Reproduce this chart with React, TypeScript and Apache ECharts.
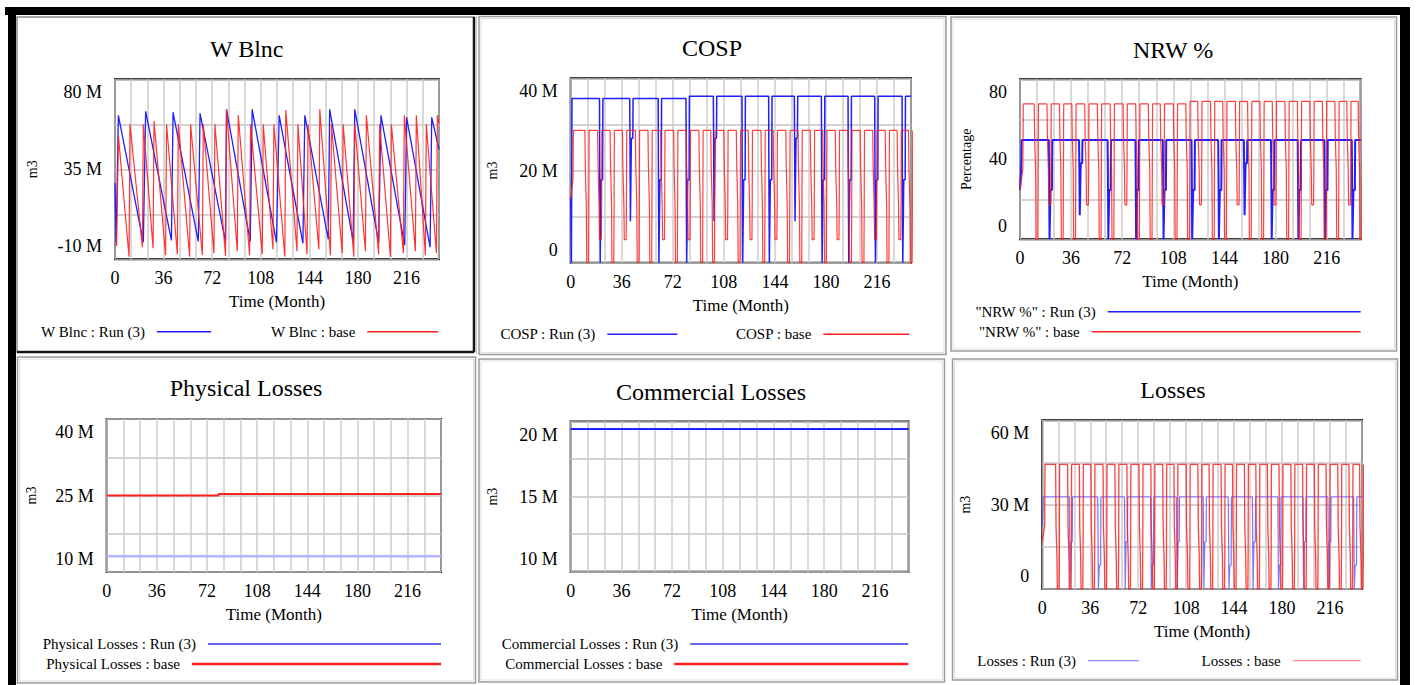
import React, { useEffect, useRef } from "react";
import * as echarts from "echarts";

type Pt = [number, number];

// ---------------- DATA (values in millions of m3, NRW in %) ----------------
const xTickLabels = ["0", "36", "72", "108", "144", "180", "216"];

// W Blnc : Run (3)
const wbRunStart: Pt[] = [[0, 28], [0.8, -2]];
const wbRunPeakT = [2.5, 22.7, 43, 63, 82.6, 101.6, 121.6, 140.6, 159, 177.6, 197, 216, 234.6];
const wbRunPeakV = [62, 64, 63.5, 63, 65, 65, 62, 62, 65, 65, 62, 61, 61];
const wbRunTroughT = [21, 41.8, 61.7, 81.8, 100.2, 119.6, 139.2, 158, 176.4, 195.3, 214.6, 233.4];
const wbRunTroughV = [-1.5, -0.5, -1, -1, -1, -1.5, -2, 0, -1, -1.5, -3, -4];
const wbRunEnd: Pt[] = [[240, 45]];

// W Blnc : base
const wbBaseStart: Pt[] = [[0, -3], [1.2, -3]];
const wbBasePeakT = [2.5, 11.1, 21, 28.9, 38.2, 46.9, 56, 65.4, 74, 82.6, 91.3, 100.4, 109.8, 117.7, 126.5, 135.5, 143, 151.7, 160.3, 169, 177.6, 186.2, 196, 204.7, 214.3, 223.2, 230.6, 238.8];
const wbBasePeakV = [52, 57.5, 57.5, 59, 57.5, 57.5, 57.5, 57.5, 57.5, 64.7, 62, 57.5, 57.5, 57.5, 64.7, 57.5, 57.5, 65, 57.5, 57.5, 57.5, 62, 57.5, 57.5, 62, 62, 57.5, 62];
const wbBaseTroughT = [10.4, 20.3, 28.2, 37.5, 46.2, 55.3, 64.7, 73.3, 81.9, 90.6, 99.7, 109.1, 117, 125.8, 134.8, 142.3, 151, 159.6, 168.3, 176.9, 185.5, 195.3, 204, 213.6, 222.5, 229.9, 238.1];
const wbBaseTroughV = [-8.7, -4, -4.5, -8, -7.5, -8.7, -8, -7, -8.5, -6, -8, -7.5, -5, -8.7, -6, -7.5, -5, -8, -7, -8.7, -6, -7.5, -8.7, -7, -6, -8, -7];
const wbBaseEnd: Pt[] = [[240, 58]];

// Run (3) supply interruptions (shared by COSP, NRW %, Losses)
const runDipT = [20.3, 41.6, 61.7, 81.3, 100.6, 120.8, 139.6, 157.7, 176.8, 195.6, 214.4, 233.7];
const runDipShapeT = [0, 0.2, 0.5, 0.9, 1.2, 2.2, 2.4];
// base interruptions (shared by COSP, NRW %, Losses)
const baseDropT = [10, 19, 27.8, 36.5, 45.6, 54.5, 63.5, 72.6, 81.5, 90.4, 98.8, 108, 116.8, 125.2, 134.2, 142.8, 151.7, 160.3, 169, 177.7, 186.6, 195.4, 204.2, 213, 221.8, 230.2, 238.2];
const baseDropShapeT = [0, 0.3, 1, 1.3, 2.6, 2.8, 3];

// COSP
const cospRunStart: Pt[] = [[0, 14], [0.5, 0], [0.9, 35.6]];
const cospRunLevels = [35.6, 36.1];
const cospRunLevelSwitchT = 82;
const cospRunBand = [18, 27, 18, 18, 27, 18, 18, 27, 18, 18, 18, 18];
const cospRunBottom = [0, 9, 0, 0, 9, 0, 0, 9, 0, 0, 0, 0];
const cospBaseStart: Pt[] = [[0, 14], [1.6, 18], [1.9, 28.7]];
const cospBaseTops = [28.7, 28.7];
const cospBaseNotches = [21, 12.6];
const cospBaseBottom = [0, 5, 0, 5, 0, 0, 5, 0, 5, 0, 0, 5, 0, 5, 0, 5, 0, 0, 5, 0, 5, 0, 0, 5, 0, 5, 0];

// NRW %
const nrwRunStart: Pt[] = [[0, 24.7], [0.8, 34.7], [1.2, 49.7]];
const nrwRunLevels = [49.7, 49.7];
const nrwRunBandHi = [34.7, 34.7, 34.7, 34.7, 34.7, 34.7, 34.7, 34.7, 34.7, 34.7, 34.7, 34.7];
const nrwRunBandLo = [24.7, 38, 24.7, 24.7, 24.7, 24.7, 24.7, 38, 24.7, 24.7, 24.7, 24.7];
const nrwRunBottom = [0, 12, 0, 0, 0, 0, 0, 12, 0, 0, 0, 0];
const nrwBaseStart: Pt[] = [[0, 24.7], [2, 34.7], [2.3, 67.7]];
const nrwBaseTops = [67.7, 69];
const nrwBaseTopSwitchT = 119;
const nrwBaseNotches = [51.3, 34.7];
const nrwBaseBottom = [0, 17.2, 0, 0, 17.2, 0, 0, 17.2, 0, 0, 17.2, 0, 0, 17.2, 0, 0, 17.2, 0, 0, 17.2, 0, 0, 17.2, 0, 0, 17.2, 0];

// Physical Losses
const physRun: Pt[] = [[0, 13.1], [240, 13.1]];
const physBase: Pt[] = [[0, 25], [80, 25], [80.5, 25.3], [240, 25.3]];

// Commercial Losses
const commRun: Pt[] = [[0, 19.5], [240, 19.5]];
const commBase: Pt[] = [[0, 19.5], [240, 19.5]];

// Losses
const lossRunStart: Pt[] = [[0, 22.5], [0.8, 32.8]];
const lossRunLevels = [32.8, 32.8];
const lossRunBandHi = [22.5, 22.5, 22.5, 22.5, 22.5, 22.5, 22.5, 22.5, 22.5, 22.5, 22.5, 22.5];
const lossRunBandLo = [16.8, 8.5, 16.8, 8.5, 16.8, 16.8, 8.5, 16.8, 8.5, 16.8, 16.8, 8.5];
const lossRunBottom = [0, 0, 0, 0, 0, 0, 0, 0, 0, 0, 0, 0];
const lossBaseStart: Pt[] = [[0, 17], [1.8, 22.5], [2, 44.3]];
const lossBaseTops = [44.3, 44.3];
const lossBaseNotches = [22.5, 11.5];
const lossBaseBottom = [0, 0, 0, 0, 0, 0, 0, 0, 0, 0, 0, 0, 0, 0, 0, 0, 0, 0, 0, 0, 0, 0, 0, 0, 0, 0, 0];

// y tick labels [bottom, middle, top]
const wbYLabels = ["-10 M", "35 M", "80 M"];
const cospYLabels = ["0", "20 M", "40 M"];
const nrwYLabels = ["0", "40", "80"];
const physYLabels = ["10 M", "25 M", "40 M"];
const commYLabels = ["10 M", "15 M", "20 M"];
const lossYLabels = ["0", "30 M", "60 M"];

// ---------------- builders ----------------
function sawtooth(start: Pt[], peakT: number[], peakV: number[], troughT: number[], troughV: number[], end: Pt[]): Pt[] {
  const out: Pt[] = [...start];
  peakT.forEach((t, i) => {
    out.push([t, peakV[i]]);
    if (i < troughT.length) out.push([troughT[i], troughV[i]]);
  });
  return out.concat(end);
}

function runDips(start: Pt[], levels: number[], switchT: number, bandHi: number[], bottom: number[], bandLo: number[]): Pt[] {
  const out: Pt[] = [...start];
  runDipT.forEach((d, i) => {
    const pre = d < switchT ? levels[0] : levels[1];
    const post = d + runDipShapeT[6] < switchT ? levels[0] : levels[1];
    const vals = [pre, bandHi[i], bottom[i], bottom[i], bandLo[i], bandLo[i], post];
    runDipShapeT.forEach((o, k) => out.push([d + o, vals[k]]));
  });
  out.push([240, levels[1]]);
  return out;
}

function baseComb(start: Pt[], tops: number[], switchT: number, notches: number[], bottom: number[]): Pt[] {
  const out: Pt[] = [...start];
  baseDropT.forEach((d, i) => {
    const top = d < switchT ? tops[0] : tops[1];
    const topAfter = d + baseDropShapeT[6] < switchT ? tops[0] : tops[1];
    const vals = [top, notches[0], notches[1], bottom[i], bottom[i], notches[1], topAfter];
    baseDropShapeT.forEach((o, k) => out.push([d + o, vals[k]]));
  });
  return out;
}

// ---------------- styling / layout ----------------
const FONT = '"Liberation Serif", "Times New Roman", serif';
const BLUE = "#1f1fff";
const RED = "#ff1f1f";

const panels = [
  { grid: [115, 79.3, 324, 180], yMin: -10, yMax: 80, yLabels: wbYLabels, yName: "m3", yNameGap: 76, title: "W Blnc", tx: 246.7, ty: 49 },
  { grid: [570.7, 78.3, 340.3, 184.4], yMin: 0, yMax: 40, yLabels: cospYLabels, yName: "m3", yNameGap: 71, title: "COSP", tx: 712, ty: 48 },
  { grid: [1020, 79.3, 340.7, 160], yMin: 0, yMax: 80, yLabels: nrwYLabels, yName: "Percentage", yNameGap: 47, title: "NRW %", tx: 1173, ty: 50 },
  { grid: [106.7, 419, 334.3, 153], yMin: 10, yMax: 40, yLabels: physYLabels, yName: "m3", yNameGap: 68, title: "Physical Losses", tx: 246, ty: 388 },
  { grid: [570.7, 421.5, 338, 150.2], yMin: 10, yMax: 20, yLabels: commYLabels, yName: "m3", yNameGap: 71, title: "Commercial Losses", tx: 711, ty: 392 },
  { grid: [1042.3, 420.3, 319.7, 168.7], yMin: 0, yMax: 60, yLabels: lossYLabels, yName: "m3", yNameGap: 70, title: "Losses", tx: 1173, ty: 390 },
];

function near(a: number, b: number) {
  return Math.abs(a - b) < 1e-6;
}

function buildOption() {
  const grid = panels.map((p) => ({
    left: p.grid[0], top: p.grid[1], width: p.grid[2], height: p.grid[3],
    show: true, borderColor: "#000", borderWidth: 2, backgroundColor: "#fff",
  }));
  const xAxis = panels.map((p, i) => ({
    gridIndex: i, type: "value", min: 0, max: 240, interval: 12,
    axisLine: { show: false }, axisTick: { show: false },
    splitLine: { show: true, lineStyle: { color: "#cdcdcd", width: 1.5 } },
    axisLabel: {
      formatter: (v: number) => (v % 36 === 0 && v < 240 ? xTickLabels[v / 36] : ""),
      fontSize: 18, fontFamily: FONT, color: "#000", margin: 10,
    },
    name: "Time (Month)", nameLocation: "middle", nameGap: 34,
    nameTextStyle: { fontSize: 17, fontFamily: FONT, color: "#000" },
  }));
  const yAxis = panels.map((p, i) => {
    const mid = (p.yMin + p.yMax) / 2;
    return {
      gridIndex: i, type: "value", min: p.yMin, max: p.yMax, interval: (p.yMax - p.yMin) / 4,
      axisLine: { show: false }, axisTick: { show: false },
      splitLine: { show: true, lineStyle: { color: "#c4c4c4", width: 1.5 } },
      axisLabel: {
        formatter: (v: number) => {
          if (near(v, p.yMin)) return p.yLabels[0] + "\n";
          if (near(v, mid)) return p.yLabels[1];
          if (near(v, p.yMax)) return "\n" + p.yLabels[2];
          return "";
        },
        fontSize: 18, fontFamily: FONT, color: "#000", margin: 13, lineHeight: 26,
      },
      name: p.yName, nameLocation: "middle", nameRotate: 90, nameGap: p.yNameGap,
      nameTextStyle: { fontSize: 14, fontFamily: FONT, color: "#000" },
    };
  });

  const line = (name: string, idx: number, data: Pt[], color: string, width: number, opacity = 1) => ({
    name, type: "line", xAxisIndex: idx, yAxisIndex: idx, data, symbol: "none", silent: true,
    color, lineStyle: { color, width, opacity }, clip: true,
  });

  const series = [
    line("W Blnc : Run (3)", 0, sawtooth(wbRunStart, wbRunPeakT, wbRunPeakV, wbRunTroughT, wbRunTroughV, wbRunEnd), BLUE, 1.3),
    line("W Blnc : base", 0, sawtooth(wbBaseStart, wbBasePeakT, wbBasePeakV, wbBaseTroughT, wbBaseTroughV, wbBaseEnd), RED, 1.2, 0.9),
    line("COSP : Run (3)", 1, runDips(cospRunStart, cospRunLevels, cospRunLevelSwitchT, cospRunBand, cospRunBottom, cospRunBand), BLUE, 1.5),
    line("COSP : base", 1, baseComb(cospBaseStart, cospBaseTops, 999, cospBaseNotches, cospBaseBottom), RED, 1.2, 0.85),
    line('"NRW %" : Run (3)', 2, runDips(nrwRunStart, nrwRunLevels, 999, nrwRunBandHi, nrwRunBottom, nrwRunBandLo), BLUE, 2),
    line('"NRW %" : base', 2, baseComb(nrwBaseStart, nrwBaseTops, nrwBaseTopSwitchT, nrwBaseNotches, nrwBaseBottom), RED, 1.2, 0.85),
    line("Physical Losses : Run (3)", 3, physRun, "#b4b4ff", 2.5),
    line("Physical Losses : base", 3, physBase, RED, 2),
    line("Commercial Losses : base", 4, commBase, RED, 1.2),
    line("Commercial Losses : Run (3)", 4, commRun, BLUE, 1.8),
    line("Losses : Run (3)", 5, runDips(lossRunStart, lossRunLevels, 999, lossRunBandHi, lossRunBottom, lossRunBandLo), "#4a4aff", 1.2, 0.75),
    line("Losses : base", 5, baseComb(lossBaseStart, lossBaseTops, 999, lossBaseNotches, lossBaseBottom), RED, 1.3, 0.85),
  ];

  const legendItem = (name: string, right: number, top: number, w: number, h: number, color: string) => ({
    data: [{ name, itemStyle: { color } }], right, top, orient: "horizontal", align: "right",
    icon: "rect", itemWidth: w, itemHeight: h, padding: 0, itemGap: 0, selectedMode: false,
    textStyle: { fontFamily: FONT, fontSize: 15, color: "#000", lineHeight: 18, padding: [0, 7, 0, 0] },
  });
  const legend = [
    legendItem("W Blnc : Run (3)", 1205, 322.7, 54, 1.5, BLUE),
    legendItem("W Blnc : base", 977.7, 322.7, 71, 1.5, RED),
    legendItem("COSP : Run (3)", 738.7, 325.3, 70, 1.5, BLUE),
    legendItem("COSP : base", 506.7, 325.3, 86, 1.5, RED),
    legendItem('"NRW %" : Run (3)', 55.3, 302.7, 253, 1.5, BLUE),
    legendItem('"NRW %" : base', 55.3, 322.7, 269, 1.5, RED),
    legendItem("Physical Losses : Run (3)", 975, 635, 233, 1.5, "#3030e8"),
    legendItem("Physical Losses : base", 975, 655, 249, 2.5, RED),
    legendItem("Commercial Losses : Run (3)", 507.7, 635, 218, 1.5, "#3030e8"),
    legendItem("Commercial Losses : base", 507.7, 655, 234, 2.5, RED),
    legendItem("Losses : Run (3)", 277, 651.7, 51, 1.2, "#8c8cff"),
    legendItem("Losses : base", 55.3, 651.7, 68, 1.2, "#ff8a8a"),
  ];

  const frame = (x: number, y: number, w: number, h: number) => [
    { type: "rect", shape: { x, y, width: w, height: h }, style: { fill: "none", stroke: "#9a9a9a", lineWidth: 1.5 } },
    { type: "rect", shape: { x: x + 2, y: y + 2, width: w - 4, height: h - 4 }, style: { fill: "none", stroke: "#dedede", lineWidth: 1 } },
  ];

  const graphic: any[] = [
    { type: "rect", shape: { x: 5, y: 7, width: 1405, height: 8 }, style: { fill: "#000" } },
    { type: "rect", shape: { x: 8, y: 7, width: 8, height: 678 }, style: { fill: "#000" } },
    { type: "rect", shape: { x: 1400, y: 7, width: 10, height: 678 }, style: { fill: "#000" } },
    // selected panel (W Blnc)
    { type: "rect", shape: { x: 17, y: 17, width: 457, height: 335 }, style: { fill: "none", stroke: "#8a8a8a", lineWidth: 1.5 } },
    { type: "line", shape: { x1: 474, y1: 17, x2: 474, y2: 352 }, style: { stroke: "#151515", lineWidth: 2.5 } },
    { type: "line", shape: { x1: 17, y1: 352, x2: 474, y2: 352 }, style: { stroke: "#151515", lineWidth: 2.5 } },
    { type: "line", shape: { x1: 476.5, y1: 17, x2: 476.5, y2: 354 }, style: { stroke: "#c8c8c8", lineWidth: 1 } },
    ...frame(479, 16.5, 467, 338),
    ...frame(951, 17, 445.5, 334),
    ...frame(17.5, 357, 458, 326),
    ...frame(479, 359, 465.5, 323),
    ...frame(952.5, 359, 445, 321),
    ...panels.map((p) => ({
      type: "text", x: p.tx, y: p.ty,
      style: { text: p.title, fontSize: 24, fontFamily: FONT, fill: "#000", align: "center", verticalAlign: "middle" },
    })),
  ];

  return { animation: false, backgroundColor: "#fff", grid, xAxis, yAxis, series, legend, graphic };
}

export default function App() {
  const ref = useRef<HTMLDivElement>(null);
  useEffect(() => {
    const chart = echarts.init(ref.current as HTMLDivElement, undefined, { renderer: "svg" });
    chart.setOption(buildOption() as any);
    return () => chart.dispose();
  }, []);
  return (
    <div
      ref={ref}
      style={{ position: "fixed", left: 0, top: 0, width: 1416, height: 685, background: "#fff" }}
    />
  );
}
